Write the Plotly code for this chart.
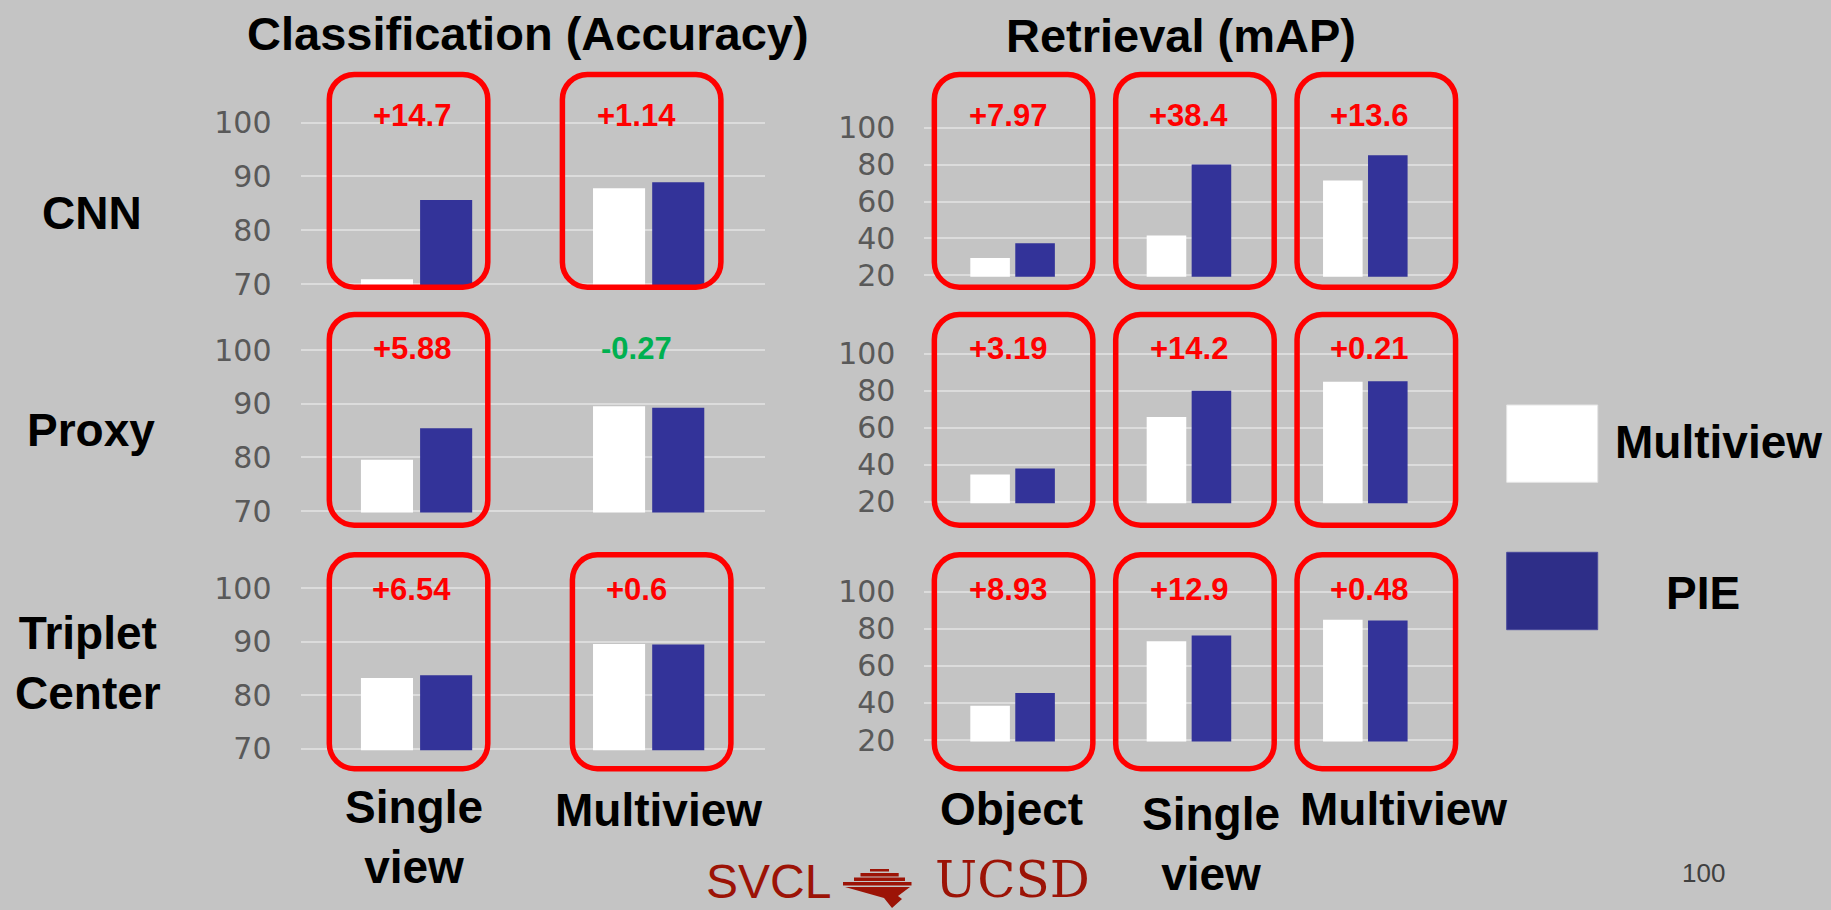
import plotly.graph_objects as go

W, H = 1831, 910

# ---------------- data ----------------
methods = ["CNN", "Proxy", "Triplet<br>Center"]
series_names = ["Multiview", "PIE"]

cls_categories = ["Single view", "Multiview"]
ret_categories = ["Object", "Single view", "Multiview"]
cls_axis_labels = ["Single<br>view", "Multiview"]
ret_axis_labels = ["Object", "Single<br>view", "Multiview"]

cls_title = "Classification (Accuracy)"
ret_title = "Retrieval (mAP)"

# classification accuracy, one row per method
cls_multiview = [[70.9, 87.8], [79.55, 89.5], [83.2, 89.55]]
cls_pie = [[85.6, 88.94], [85.43, 89.23], [83.7, 89.45]]
cls_gain = [[14.7, 1.14], [5.88, -0.27], [6.54, 0.6]]

# retrieval mAP, one row per method
ret_multiview = [[29.4, 41.6, 71.4], [34.7, 65.8, 84.9], [38.5, 73.3, 84.9]]
ret_pie = [[37.4, 80.0, 85.0], [37.9, 80.0, 85.1], [45.4, 76.4, 84.4]]
ret_gain = [[7.97, 38.4, 13.6], [3.19, 14.2, 0.21], [8.93, 12.9, 0.48]]

cls_ticks = [70, 80, 90, 100]
ret_ticks = [20, 40, 60, 80, 100]

page_number = "100"

# ---------------- style ----------------
BG = "#C4C4C4"
GRID = "#DCDCDC"
WHITE = "#FFFFFF"
BLUE = "#333399"
LEGEND_BLUE = "#2E2E88"
RED = "#FF0000"
GREEN = "#00B050"
TICK = "#595959"
LOGO = "#9C1306"
SANS = "Liberation Sans, Arial, sans-serif"
TICK_FONT = "DejaVu Sans, Verdana, sans-serif"

# panel geometry in pixels
PANEL_X = {"cls": (300.5, 764.7), "ret": (924.4, 1453.5)}
PANEL_Y = {"cls": [(122.7, 284.0), (350.0, 511.0), (588.0, 748.7)],
           "ret": [(127.7, 275.3), (353.7, 501.7), (591.7, 740.0)]}
BOX_ROWS = [(71.7, 290.0), (311.7, 528.0), (552.0, 771.5)]
BOX_DX = {"cls": [[-8, -7], [-8, -7], [-8, 3]],
          "ret": [[1, 6, 11], [1, 6, 11], [1, 6, 11]]}
BOX_W = 164
BOX_LW = 5.5
BOX_R = 25
LABEL_ROWS = [115, 348, 589]
LABEL_DX = {"cls": [-5, -12], "ret": [-5, 0, 4]}
XLABEL_DX = {"cls": [-2.5, 10], "ret": [-1, 22, 38]}
XLABEL_Y = {"cls": [837, 810], "ret": [809, 844, 809]}
ROW_LABEL_POS = [(92, 213), (91.3, 430), (88, 663)]


def P(x, y):
    return f"{x / W:.5f},{1 - y / H:.5f}"


def rounded_box(xl, yt, xr, yb, rad):
    k = 0.5523 * rad
    return (f"M {P(xl + rad, yt)} L {P(xr - rad, yt)} "
            f"C {P(xr - rad + k, yt)} {P(xr, yt + rad - k)} {P(xr, yt + rad)} "
            f"L {P(xr, yb - rad)} "
            f"C {P(xr, yb - rad + k)} {P(xr - rad + k, yb)} {P(xr - rad, yb)} "
            f"L {P(xl + rad, yb)} "
            f"C {P(xl + rad - k, yb)} {P(xl, yb - rad + k)} {P(xl, yb - rad)} "
            f"L {P(xl, yt + rad)} "
            f"C {P(xl, yt + rad - k)} {P(xl + rad - k, yt)} {P(xl + rad, yt)} Z")


def text(x, y, s, size, color="black", family=SANS, weight=700, **kw):
    return dict(x=x / W, y=1 - y / H, xref="paper", yref="paper", text=s,
                showarrow=False, xanchor="center", yanchor="middle",
                font=dict(family=family, size=size, color=color, weight=weight), **kw)


fig = go.Figure()
axes = {}
shapes = []
annotations = []

panels = [
    ("cls", cls_categories, cls_axis_labels, cls_multiview, cls_pie, cls_gain, cls_ticks),
    ("ret", ret_categories, ret_axis_labels, ret_multiview, ret_pie, ret_gain, ret_ticks),
]

k = 0
for r in range(len(methods)):
    for key, cats, xlabels, mv, pie, gain, ticks in panels:
        k += 1
        sfx = "" if k == 1 else str(k)
        x0, x1 = PANEL_X[key]
        yt, yb = PANEL_Y[key][r]
        lo, hi = ticks[0], ticks[-1]
        upp = (hi - lo) / (yb - yt)
        pad = 1.5
        axes["xaxis" + sfx] = dict(
            domain=[x0 / W, x1 / W], anchor="y" + sfx, type="category",
            categoryorder="array", categoryarray=cats, showticklabels=False,
            showgrid=False, zeroline=False, showline=False, ticks="", fixedrange=True,
            automargin=False)
        axes["yaxis" + sfx] = dict(
            domain=[1 - (yb + pad) / H, 1 - (yt - pad) / H], anchor="x" + sfx,
            range=[lo - pad * upp, hi + pad * upp], tickmode="array", tickvals=ticks,
            showgrid=True, gridcolor=GRID, gridwidth=2, zeroline=False, showline=False,
            ticks="", ticklabelstandoff=28, automargin=False,
            tickfont=dict(family=TICK_FONT, size=30, color=TICK), fixedrange=True)

        for name, vals, col in ((series_names[0], mv[r], WHITE), (series_names[1], pie[r], BLUE)):
            fig.add_trace(go.Bar(x=cats, y=vals, name=name, marker=dict(color=col, line=dict(width=0)),
                                 xaxis="x" + sfx, yaxis="y" + sfx, showlegend=False,
                                 hoverinfo="skip"))

        n = len(cats)
        for i in range(n):
            cx = x0 + (i + 0.5) * (x1 - x0) / n
            g = gain[r][i]
            annotations.append(text(cx + LABEL_DX[key][i], LABEL_ROWS[r], f"{g:+g}", 31,
                                    color=RED if g > 0 else GREEN))
            if g > 0:
                bc = cx + BOX_DX[key][r][i]
                bt, bb = BOX_ROWS[r]
                h = BOX_LW / 2
                shapes.append(dict(type="path", xref="paper", yref="paper",
                                   path=rounded_box(bc - BOX_W / 2 + h, bt + h, bc + BOX_W / 2 - h, bb - h, BOX_R),
                                   line=dict(color=RED, width=BOX_LW), layer="above"))
            if r == len(methods) - 1:
                annotations.append(text(cx + XLABEL_DX[key][i], XLABEL_Y[key][i], xlabels[i], 46))

# column titles
annotations.append(text(528, 34, cls_title, 47))
annotations.append(text(1181, 36, ret_title, 47))

# row titles
for (mx, my), m in zip(ROW_LABEL_POS, methods):
    annotations.append(text(mx, my, m, 46))

# legend
for (sy0, sy1), col, name, (tx, ty) in zip(
        [(405, 482.3), (552.3, 629.7)], [WHITE, LEGEND_BLUE], series_names,
        [(1718, 441.7), (1703, 592.5)]):
    shapes.append(dict(type="rect", xref="paper", yref="paper",
                       x0=1506.7 / W, x1=1597.7 / W, y0=1 - sy1 / H, y1=1 - sy0 / H,
                       fillcolor=col, line=dict(color="#E6E6E6" if col == WHITE else "#4A4A9C", width=1)))
    annotations.append(text(tx, ty, name, 46))

# lab / university mark at the bottom
annotations.append(text(768, 881, "SVCL", 48, color=LOGO, family="Liberation Sans", weight=400))
annotations.append(text(1012, 880, "UCSD", 50, color=LOGO, family="DejaVu Serif, Liberation Serif, serif", weight=400))
for bx0, by0, bx1, by1 in [(870, 869, 889, 871.5), (860.5, 873, 898.7, 876.5),
                           (854, 877.5, 905, 881), (843, 882, 911.5, 885.5)]:
    shapes.append(dict(type="rect", xref="paper", yref="paper", x0=bx0 / W, x1=bx1 / W,
                       y0=1 - by1 / H, y1=1 - by0 / H, fillcolor=LOGO, line=dict(width=0)))
shapes.append(dict(type="path", xref="paper", yref="paper",
                   path=f"M {P(845, 887)} L {P(910, 887)} L {P(898, 896)} L {P(902, 899)} L {P(892, 908)} L {P(884, 898)} Z",
                   fillcolor=LOGO, line=dict(width=0)))

annotations.append(text(1703, 873, page_number, 26, color="#404040", weight=400))

fig.update_layout(
    template="none",
    width=W, height=H, autosize=False,
    margin=dict(l=0, r=0, t=0, b=0, pad=0, autoexpand=False),
    paper_bgcolor=BG, plot_bgcolor=BG,
    barmode="group", bargap=0.49, bargroupgap=0.12,
    showlegend=False,
    shapes=shapes, annotations=annotations,
    **axes,
)

fig.write_html("out.html")
